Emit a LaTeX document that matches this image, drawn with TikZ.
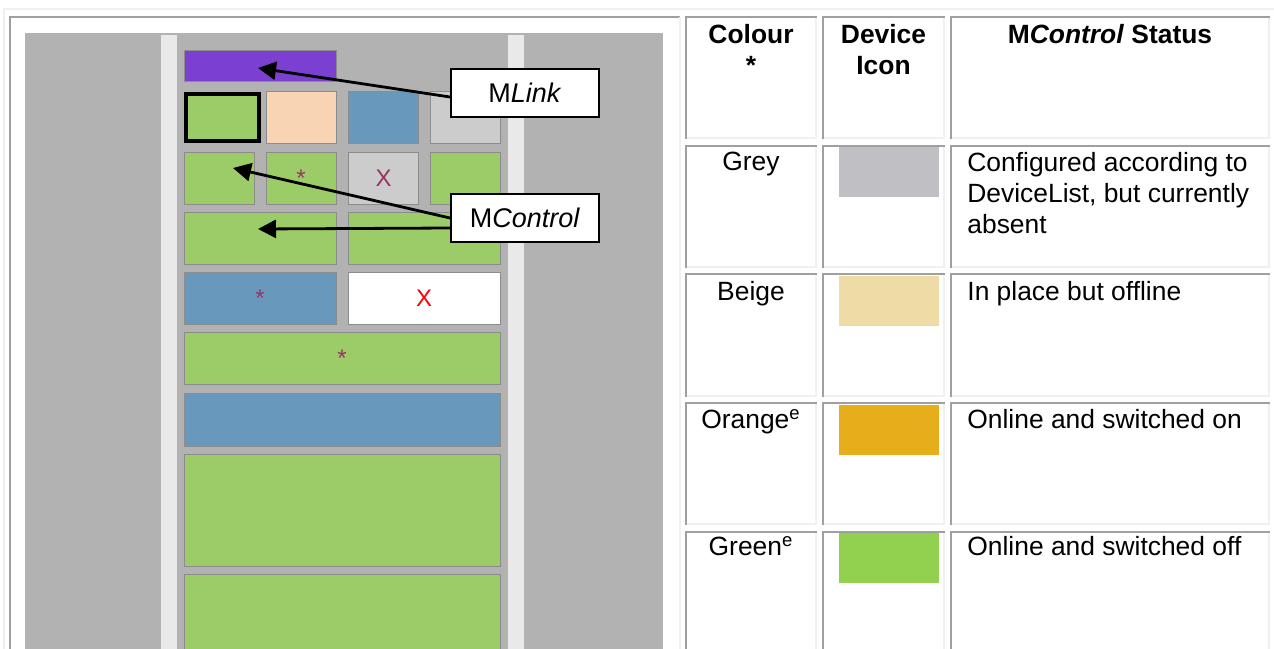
\documentclass[tikz,border=0pt]{standalone}
\usepackage{fontspec}
\setmainfont{Liberation Sans}
\usetikzlibrary{arrows.meta, positioning}
\definecolor{devgreen}{RGB}{155,204,104}
\definecolor{devblue}{RGB}{104,153,188}
\definecolor{devbeige}{RGB}{248,212,180}
\definecolor{devgrey}{RGB}{204,204,204}
\definecolor{devpurple}{RGB}{123,63,210}
\definecolor{devedge}{RGB}{140,140,140}
\definecolor{markc}{RGB}{153,51,102}
\definecolor{panelgray}{RGB}{178,178,178}
\definecolor{stripgray}{RGB}{233,233,233}
\definecolor{tabdarkc}{RGB}{160,160,160}
\definecolor{tablightc}{RGB}{240,240,240}
\definecolor{keygrey}{RGB}{192,191,195}
\definecolor{keybeige}{RGB}{239,219,166}
\definecolor{keyorange}{RGB}{230,174,26}
\definecolor{keygreen}{RGB}{146,208,80}

\begin{document}
\begin{tikzpicture}[
    x=0.5pt, y=-0.5pt,
    font=\fontsize{13.2pt}{15.5pt}\selectfont,
    dev/.style={rectangle, draw=devedge, line width=0.5pt, minimum width=35pt, minimum height=26pt, inner sep=0pt, font=\fontsize{12pt}{14pt}\selectfont},
    wide/.style={dev, minimum width=76pt},
    full/.style={dev, minimum width=158pt},
    callout/.style={rectangle, draw, line width=1pt, fill=white, minimum width=74pt, minimum height=24pt, font=\fontsize{13.5pt}{16pt}\selectfont},
    arrow/.style={->, >={Triangle[length=9pt, width=9pt]}, line width=1.4pt},
    swatch/.style={rectangle, minimum width=50pt, minimum height=25pt, inner sep=0pt},
    tabdark/.style={draw=tabdarkc, line width=1pt},
    tablight/.style={draw=tablightc, line width=1pt},
    head/.style={anchor=north, align=center, inner sep=0pt, font=\fontsize{13.2pt}{15.5pt}\selectfont\bfseries},
    colname/.style={anchor=base, inner sep=0pt},
    status/.style={anchor=base west, align=left, inner sep=0pt}
]
\useasboundingbox (0,0) rectangle (1274,648);
\clip (0,0) rectangle (1274,648);

% outer frame and cells
\draw[tablight] (4,660) -- (4,9) -- (1274,9);
\draw[tabdark] (10,660) -- (10,17) -- (680,17);
\draw[tablight] (680,17) -- (680,660);
\foreach \xa/\xb in {685/817, 822/945, 950/1270}
  \foreach \ya/\yb in {16/139, 145/268, 273/397, 402/525, 531/660} {
    \draw[tabdark] (\xa+1,\yb) -- (\xa+1,\ya+1) -- (\xb,\ya+1);
    \draw[tablight] (\xb-1,\ya+2) -- (\xb-1,\yb-1) -- (\xa+2,\yb-1);
  }

% rack
\fill[panelgray] (25,33) rectangle (663,660);
\fill[stripgray] (161,35) rectangle (177,660);
\fill[stripgray] (508,35) rectangle (524,660);

% devices
\node[dev, fill=devpurple, minimum width=76pt, minimum height=15.5pt] (linkbar) at (260,65.5) {};
\node[dev, fill=devgreen, draw=black, line width=2pt, minimum width=36.5pt, minimum height=23.5pt] (d11) at (222.5,117.5) {};
\node[dev, fill=devbeige] (d12) at (301,117.5) {};
\node[dev, fill=devblue] (d13) at (383.5,117.5) {};
\node[dev, fill=devgrey] (d14) at (465,117.5) {};
\node[dev, fill=devgreen] (d21) at (219,178) {};
\node[dev, fill=devgreen] (d22) at (301,178) {\textcolor{markc}{*}};
\node[dev, fill=devgrey] (d23) at (383.5,178) {\textcolor{markc}{X}};
\node[dev, fill=devgreen] (d24) at (465,178) {};
\node[wide, fill=devgreen] (d31) at (260,238) {};
\node[wide, fill=devgreen] (d32) at (424,238) {};
\node[wide, fill=devblue] (d41) at (260,298) {\textcolor{markc}{*}};
\node[wide, fill=white] (d42) at (424,298) {\textcolor{red}{X}};
\node[full, fill=devgreen] (d5) at (342,358.5) {\textcolor{markc}{*}};
\node[full, fill=devblue, minimum height=26.5pt] (d6) at (342,419.5) {};
\node[full, fill=devgreen, minimum height=56pt] (d7) at (342,510) {};
\node[full, fill=devgreen, minimum height=56pt] (d8) at (342,630) {};

% callouts
\node[callout] (mlink) at (525,93) {M\textit{Link}};
\node[callout, below=37.5pt of mlink] (mcontrol) {M\textit{Control}};

\coordinate (linktip) at (258,68);
\coordinate (ctltip) at (233,168);
\coordinate (ctltip2) at (258,229);
\draw[arrow] ([yshift=-2pt]mlink.west) -- (linktip);
\draw[arrow] (mcontrol.west) -- (ctltip);
\draw[arrow] ([yshift=-5pt]mcontrol.west) -- (ctltip2);

% key table
\node[head] (hcolour) at (751,24) {Colour\\*};
\node[head] (hicon) at (883.5,24) {Device\\Icon};
\node[head] (hstatus) at (1110,24) {M\textit{Control} Status};

\node[colname] (ngrey) at (751,170) {Grey};
\node[colname] (nbeige) at (751,300) {Beige};
\node[colname] (norange) at (751,428) {Orange\textsuperscript{e}};
\node[colname] (ngreen) at (751,555) {Green\textsuperscript{e}};

\node[swatch, fill=keygrey] (kgrey) at (889,172) {};
\node[swatch, fill=keybeige] (kbeige) at (889,300.5) {};
\node[swatch, fill=keyorange] (korange) at (889,429.5) {};
\node[swatch, fill=keygreen] (kgreen) at (889,558) {};

\node[status, anchor=north west] (sgrey) at (967,152) {Configured according to\\DeviceList, but currently\\absent};
\node[status] (sbeige) at (967,300) {In place but offline};
\node[status] (sorange) at (967,428) {Online and switched on};
\node[status] (sgreen) at (967,555) {Online and switched off};

\end{tikzpicture}
\end{document}
